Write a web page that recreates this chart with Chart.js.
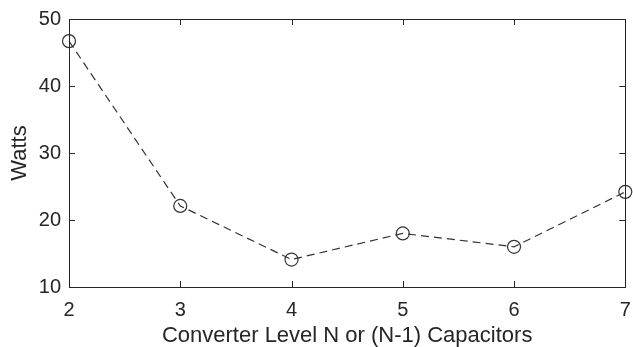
<!DOCTYPE html>
<html><head><meta charset="utf-8">
<script src="https://cdn.jsdelivr.net/npm/chart.js@4"></script>
<style>html,body{margin:0;padding:0;background:#fff}#c{display:block}</style>
</head><body>
<canvas id="c" width="633" height="347"></canvas>
<script>
const levels = [2, 3, 4, 5, 6, 7];
const watts = [46.7, 22.1, 14.1, 18.0, 16.0, 24.2];
const xTicks = [2, 3, 4, 5, 6, 7];
const yTicks = [10, 20, 30, 40, 50];

const FONT = "'Liberation Sans', Arial, sans-serif";
const AXC = '#262626';

const boxPlugin = {
  id: 'box',
  afterDraw(chart) {
    const {ctx, chartArea: a, scales} = chart;
    ctx.save();
    ctx.strokeStyle = AXC;
    ctx.lineWidth = 1;
    ctx.strokeRect(Math.round(a.left)+0.5, Math.round(a.top)+0.5, Math.round(a.right-a.left), Math.round(a.bottom-a.top));
    const tl = 6;
    ctx.beginPath();
    xTicks.forEach(v => {
      const x = Math.round(scales.x.getPixelForValue(v)) + 0.5;
      ctx.moveTo(x, a.bottom); ctx.lineTo(x, a.bottom - tl);
      ctx.moveTo(x, a.top); ctx.lineTo(x, a.top + tl);
    });
    yTicks.forEach(v => {
      const y = Math.round(scales.y.getPixelForValue(v)) + 0.5;
      ctx.moveTo(a.left, y); ctx.lineTo(a.left + tl, y);
      ctx.moveTo(a.right, y); ctx.lineTo(a.right - tl, y);
    });
    ctx.stroke();
    ctx.restore();
  }
};

new Chart(document.getElementById('c'), {
  type: 'line',
  data: {
    datasets: [{
      data: levels.map((x, i) => ({x, y: watts[i]})),
      borderColor: '#333333',
      borderWidth: 1.2,
      borderDash: [8, 5],
      pointStyle: 'circle',
      pointRadius: 6.5,
      pointBorderWidth: 1.2,
      pointBorderColor: '#333333',
      pointBackgroundColor: 'rgba(0,0,0,0)',
      fill: false,
      tension: 0
    }]
  },
  options: {
    responsive: false,
    animation: false,
    clip: false,
    layout: {padding: {left: 0, top: 19, right: 5.5, bottom: 0}},
    plugins: {legend: {display: false}, tooltip: {enabled: false}},
    scales: {
      x: {
        type: 'linear', min: 2, max: 7,
        afterBuildTicks: s => { s.ticks = xTicks.map(v => ({value: v})); },
        afterFit: s => { s.height = 60; s.paddingLeft = 0; s.paddingRight = 0; },
        grid: {display: false, drawTicks: false},
        border: {display: false},
        ticks: {color: AXC, font: {family: FONT, size: 20}, padding: 11, maxRotation: 0, autoSkip: false},
        title: {display: true, text: 'Converter Level N or (N-1) Capacitors', color: AXC, font: {family: FONT, size: 22, lineHeight: 1}, padding: {top: 0, bottom: 0}}
      },
      y: {
        type: 'linear', min: 10, max: 50,
        afterBuildTicks: s => { s.ticks = yTicks.map(v => ({value: v})); },
        afterFit: s => { s.width = 69; s.paddingTop = 0; s.paddingBottom = 0; },
        grid: {display: false, drawTicks: false},
        border: {display: false},
        ticks: {color: AXC, font: {family: FONT, size: 20}, padding: 8},
        title: {display: true, text: 'Watts', color: AXC, font: {family: FONT, size: 22, lineHeight: 1}, padding: {top: 8.5, bottom: 0}}
      }
    }
  },
  plugins: [boxPlugin]
});
</script>
</body></html>
